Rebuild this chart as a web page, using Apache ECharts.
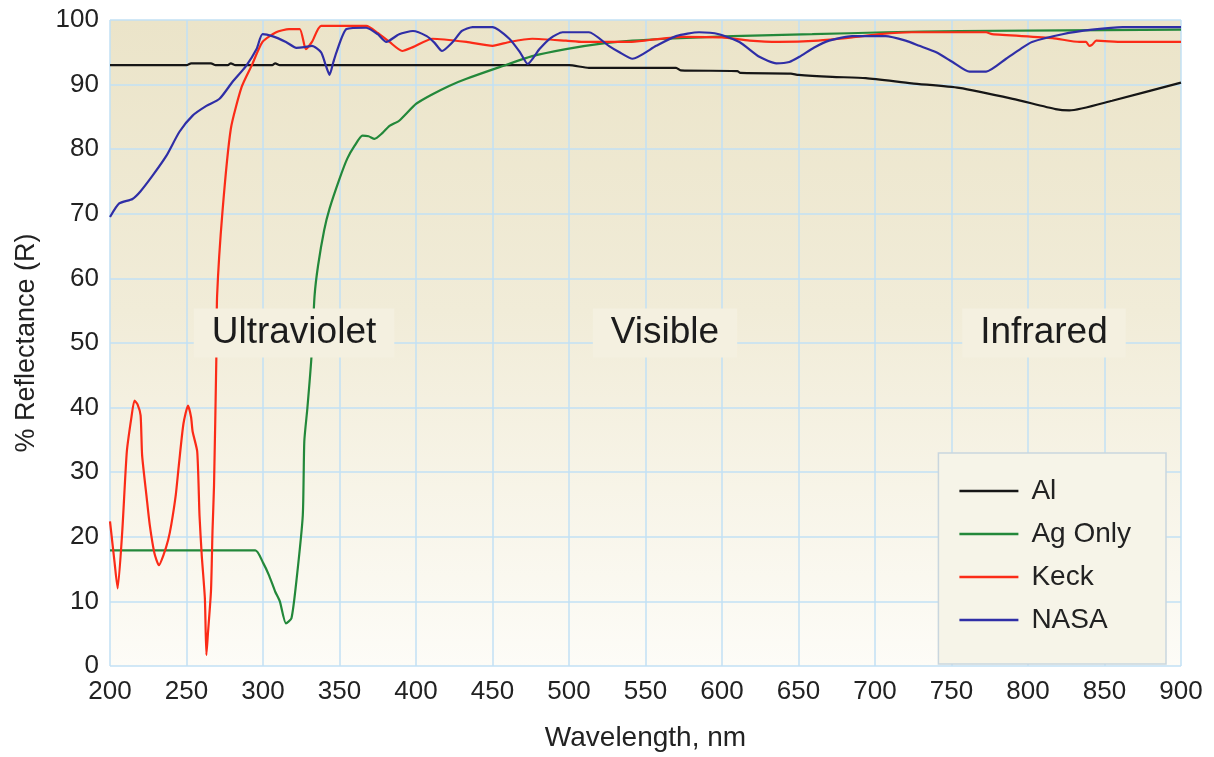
<!DOCTYPE html>
<html>
<head>
<meta charset="utf-8">
<script src="https://cdn.jsdelivr.net/npm/echarts@6/dist/echarts.min.js"></script>
<style>
  html, body { margin: 0; padding: 0; background: #fff; }
  #main { width: 1214px; height: 757px; }
</style>
</head>
<body>
<div id="main"></div>
<script>
// wavelength (nm) / reflectance (%)
var alWl = [200, 250, 253, 256, 266, 269, 277, 279, 282, 306, 308, 311, 500, 513, 570, 573, 610, 612, 645, 650, 672, 694, 724, 755, 790, 818, 827, 855, 900];
var alR  = [93, 93, 93.3, 93.3, 93.3, 93, 93, 93.3, 93, 93, 93.3, 93, 93, 92.6, 92.6, 92.2, 92.1, 91.8, 91.7, 91.5, 91.2, 91.0, 90.2, 89.5, 87.8, 86.2, 86.0, 87.5, 90.3];

var agWl = [200, 295, 300, 304, 308, 311, 315, 318.6, 321.8, 326, 327, 329, 331.6, 333.7, 336, 340, 343.5, 350, 355, 359.8, 365, 369, 372.9, 378, 382.7, 389, 400, 410.8, 421.6, 433, 454.6, 476, 498, 520, 541.5, 563.7, 607, 659, 707, 755, 900];
var agR  = [17.9, 17.9, 16, 14, 11.5, 10, 6.6, 7.4, 13.1, 23.3, 34.8, 39.9, 47.6, 57.3, 62, 67.5, 70.8, 75.4, 78.5, 80.5, 82.1, 82, 81.6, 82.5, 83.6, 84.4, 87, 88.5, 89.8, 90.9, 92.7, 94.4, 95.5, 96.3, 96.8, 97.1, 97.5, 97.8, 98.1, 98.3, 98.5];

var keckWl = [200, 203, 205, 208, 211, 214, 216, 218, 220, 221, 224, 226, 229, 232, 235, 238, 240, 243, 245, 248, 251, 253, 254, 257, 258.5, 260, 262, 263, 264, 266, 267, 268, 269.5, 270, 273.5, 279, 286, 292.5, 299.7, 308.6, 317, 324, 328, 332, 338, 367.5, 375, 382.7, 391, 398, 410.8, 433, 450, 461, 476, 498, 509, 539.5, 552.6, 574, 600, 618, 637, 663, 685, 703, 724, 772.6, 776.5, 816, 833.6, 838, 840, 842, 844.6, 861.8, 900];
var keckR  = [22.4, 16, 12, 20.8, 33.2, 38.5, 41.1, 40.5, 38.8, 32.6, 26, 21.8, 17.5, 15.6, 17.2, 19.5, 21.8, 26.5, 31.1, 37.5, 40.3, 38.5, 36.3, 33.2, 23.3, 17, 10.5, 1.7, 5, 11.6, 20.9, 28, 47.6, 57.3, 70.3, 83.2, 89.6, 92.9, 96.6, 98.1, 98.6, 98.6, 95.5, 96.6, 99.1, 99.1, 98, 96.6, 95.2, 95.8, 97.1, 96.6, 96, 96.6, 97.1, 96.8, 96.6, 96.6, 96.9, 97.4, 97.3, 96.8, 96.6, 96.8, 97.3, 97.8, 98.1, 98.1, 97.8, 97.2, 96.6, 96.6, 96, 96.2, 96.8, 96.6, 96.6];

var nasaWl = [200, 206, 214.7, 220, 227.8, 236.9, 245.4, 254, 263, 271.6, 280, 289, 295.8, 299.7, 306, 315, 321.8, 327, 332, 338, 341, 343.5, 346, 348, 354.6, 367.5, 375, 380.6, 389, 398, 407, 412, 417, 424, 430, 437, 450, 461, 468, 473, 480.7, 488, 495.8, 513, 526, 533, 541.5, 557, 570, 585, 598, 611.4, 624.4, 635.5, 644, 650.6, 660, 670, 685, 707, 720, 729, 740, 750.7, 761.8, 772.6, 785.7, 795, 802.6, 822.5, 842, 862, 900];
var nasaR  = [69.5, 71.6, 72.3, 73.5, 75.9, 79, 82.7, 85.2, 86.7, 87.8, 90.4, 92.9, 95.5, 97.8, 97.5, 96.6, 95.7, 95.8, 96, 95, 93, 91.5, 93.5, 95, 98.6, 98.8, 97.8, 96.6, 97.8, 98.3, 97.5, 96.5, 95.2, 96.6, 98.3, 98.9, 98.9, 97.1, 95, 93.2, 95.5, 97.2, 98.1, 98.1, 96, 95, 94, 96, 97.5, 98.1, 97.8, 96.6, 94.3, 93.3, 93.5, 94.3, 95.7, 96.8, 97.5, 97.5, 96.8, 96, 95, 93.5, 92, 92, 94, 95.5, 96.6, 97.8, 98.5, 98.9, 98.9];

var seriesNames = ['Al', 'Ag Only', 'Keck', 'NASA'];
var regionLabels = ['Ultraviolet', 'Visible', 'Infrared'];

function zip(xs, ys) {
  return xs.map(function (x, i) { return [x, ys[i]]; });
}

var FONT = '"Liberation Sans", Arial, sans-serif';
var chart = echarts.init(document.getElementById('main'));

function lineSeries(name, data, color) {
  return {
    name: name,
    type: 'line',
    data: data,
    showSymbol: false,
    symbol: 'none',
    smooth: 0.2,
    lineStyle: { color: color, width: 2.2 },
    itemStyle: { color: color },
    emphasis: { disabled: true }
  };
}

// region captions sit on a patch of background colour, over the grid and lines
var labelBox = function (text, x, y) {
  return {
    type: 'text',
    x: x,
    y: y,
    z: 100,
    style: {
      text: text,
      font: '37px ' + FONT,
      fill: '#1c1c1c',
      align: 'center',
      verticalAlign: 'middle',
      backgroundColor: '#f4f0e0',
      padding: [6, 18, 6, 18]
    }
  };
};

var option = {
  animation: false,
  backgroundColor: '#ffffff',
  grid: {
    left: 110, right: 33, top: 20, bottom: 89,
    show: true,
    borderWidth: 0,
    backgroundColor: new echarts.graphic.LinearGradient(0, 0, 0, 1, [
      { offset: 0, color: '#ebe4c9' },
      { offset: 0.45, color: '#f1ecd8' },
      { offset: 1, color: '#fdfcf7' }
    ])
  },
  xAxis: {
    type: 'value',
    min: 200, max: 900, interval: 50,
    name: 'Wavelength, nm',
    nameLocation: 'middle',
    nameGap: 58,
    nameTextStyle: { fontFamily: FONT, fontSize: 28, color: '#222' },
    axisLine: { show: false },
    axisTick: { show: false },
    axisLabel: { fontFamily: FONT, fontSize: 26, color: '#222', margin: 13 },
    splitLine: { show: true, lineStyle: { color: '#c2e1f4', width: 1.5 } }
  },
  yAxis: {
    type: 'value',
    min: 0, max: 100, interval: 10,
    name: '% Reflectance (R)',
    nameLocation: 'middle',
    nameGap: 70,
    nameTextStyle: { fontFamily: FONT, fontSize: 27, color: '#222' },
    axisLine: { show: false },
    axisTick: { show: false },
    axisLabel: { fontFamily: FONT, fontSize: 26, color: '#222', margin: 11 },
    splitLine: { show: true, lineStyle: { color: '#c2e1f4', width: 1.5 } }
  },
  legend: {
    data: seriesNames,
    orient: 'vertical',
    right: 48,
    bottom: 93,
    icon: 'rect',
    itemWidth: 59,
    itemHeight: 2.5,
    itemGap: 15,
    padding: [24, 35, 30, 21],
    backgroundColor: '#f6f4e8',
    borderColor: '#c9d6de',
    borderWidth: 1.5,
    textStyle: { fontFamily: FONT, fontSize: 28, lineHeight: 28, color: '#222', padding: [0, 0, 0, 8] }
  },
  graphic: [
    labelBox(regionLabels[0], 294, 333),
    labelBox(regionLabels[1], 665, 333),
    labelBox(regionLabels[2], 1044, 333)
  ],
  series: [
    lineSeries(seriesNames[0], zip(alWl, alR), '#161616'),
    lineSeries(seriesNames[1], zip(agWl, agR), '#23883a'),
    lineSeries(seriesNames[2], zip(keckWl, keckR), '#fb2b17'),
    lineSeries(seriesNames[3], zip(nasaWl, nasaR), '#2f2ea6')
  ]
};

chart.setOption(option);
</script>
</body>
</html>
